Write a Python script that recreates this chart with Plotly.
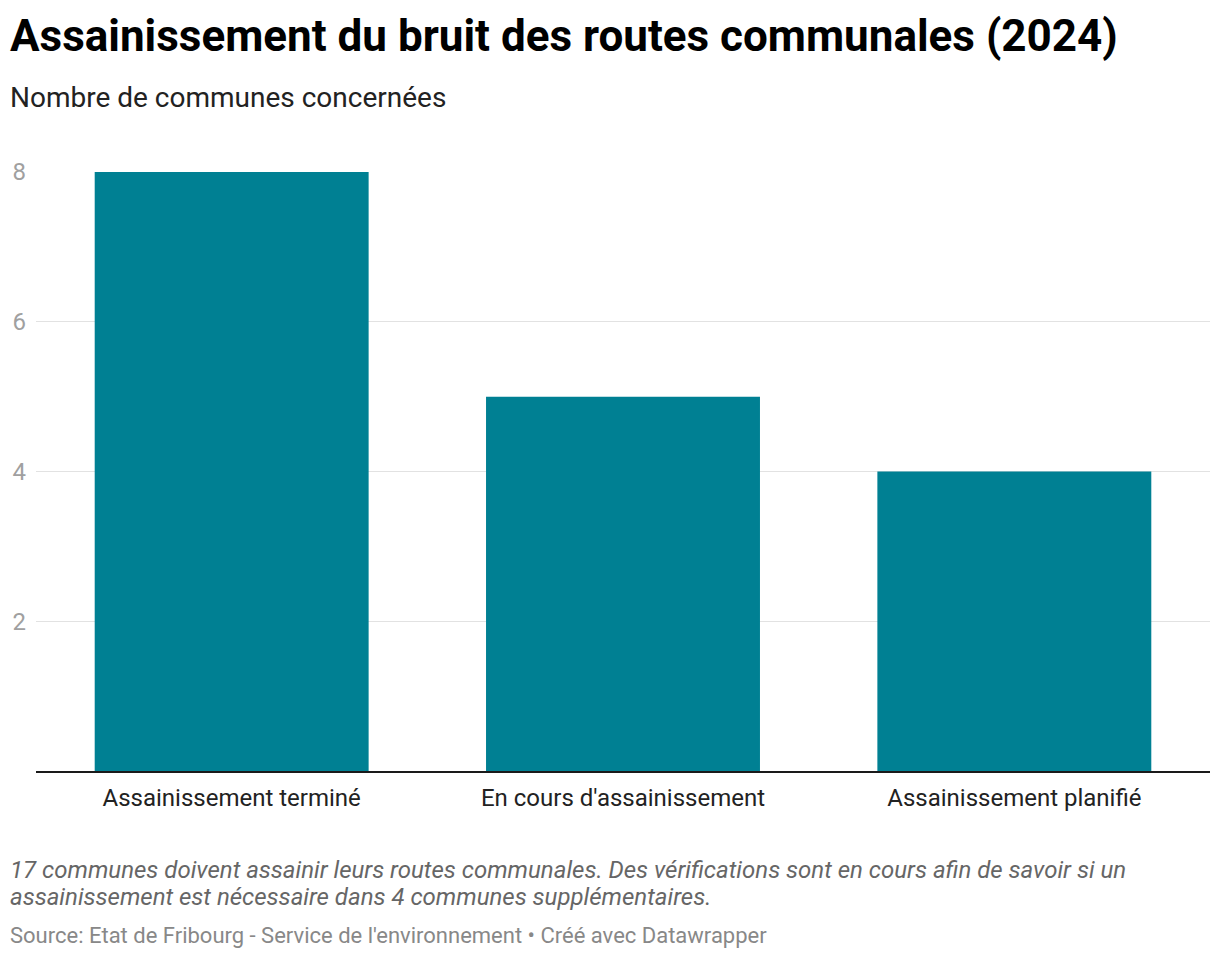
import plotly.graph_objects as go

categories = ["Assainissement terminé", "En cours d'assainissement", "Assainissement planifié"]
values = [8, 5, 4]
y_ticks = [2, 4, 6, 8]

title = "Assainissement du bruit des routes communales (2024)"
subtitle = "Nombre de communes concernées"
note1 = "17 communes doivent assainir leurs routes communales. Des vérifications sont en cours afin de savoir si un"
note2 = "assainissement est nécessaire dans 4 communes supplémentaires."
source = "Source: Etat de Fribourg - Service de l'environnement • Créé avec Datawrapper"

# the page adds an 8px body margin; compensate so the picture lines up at 1220x958
OFF = 8
W, H = 1220 - OFF, 958 - OFF
ML, MR, MT, MB = 36 - OFF, 10, 172 - OFF, 187
plot_h = H - MT - MB
plot_w = W - ML - MR


def py(ref_y):
    return (H - MB - (ref_y - OFF)) / plot_h


def px(ref_x):
    return ((ref_x - OFF) - ML) / plot_w


fig = go.Figure(
    go.Bar(
        x=categories,
        y=values,
        marker=dict(color="#008093", line=dict(width=0)),
        hoverinfo="skip",
    )
)

fig.update_layout(
    width=W,
    height=H,
    margin=dict(l=ML, r=MR, t=MT, b=MB, autoexpand=False),
    paper_bgcolor="white",
    plot_bgcolor="white",
    bargap=0.3,
    showlegend=False,
    font=dict(family="Roboto", color="#222222"),
    xaxis=dict(
        showgrid=False,
        showline=True,
        linecolor="#1a1a1a",
        linewidth=2,
        ticks="",
        tickfont=dict(size=24, color="#222222", family="Roboto"),
        ticklabelstandoff=4,
        automargin=False,
        fixedrange=True,
    ),
    yaxis=dict(
        range=[0, 8],
        tickvals=y_ticks,
        showgrid=True,
        gridcolor="#e2e2e2",
        gridwidth=1,
        zeroline=False,
        showline=False,
        ticks="",
        tickfont=dict(size=24, color="#a0a0a0", family="Roboto"),
        ticklabelstandoff=9,
        automargin=False,
        fixedrange=True,
    ),
)

annotations = [
    dict(text=f"<b>{title}</b>", x=px(8), y=py(36), font=dict(size=44, color="#000000")),
    dict(text=subtitle, x=px(8), y=py(97), font=dict(size=28, color="#222222")),
    dict(text=f"<i>{note1}</i>", x=px(8), y=py(870), font=dict(size=24, color="#666666")),
    dict(text=f"<i>{note2}</i>", x=px(8), y=py(897), font=dict(size=24, color="#666666")),
    dict(text=source, x=px(8), y=py(935), font=dict(size=22, color="#888888")),
]
for a in annotations:
    a.update(xref="paper", yref="paper", xanchor="left", yanchor="middle", showarrow=False,
             font=dict(family="Roboto", **a["font"]))
fig.update_layout(annotations=annotations)

fig.write_html("out.html", config={"displayModeBar": False})
